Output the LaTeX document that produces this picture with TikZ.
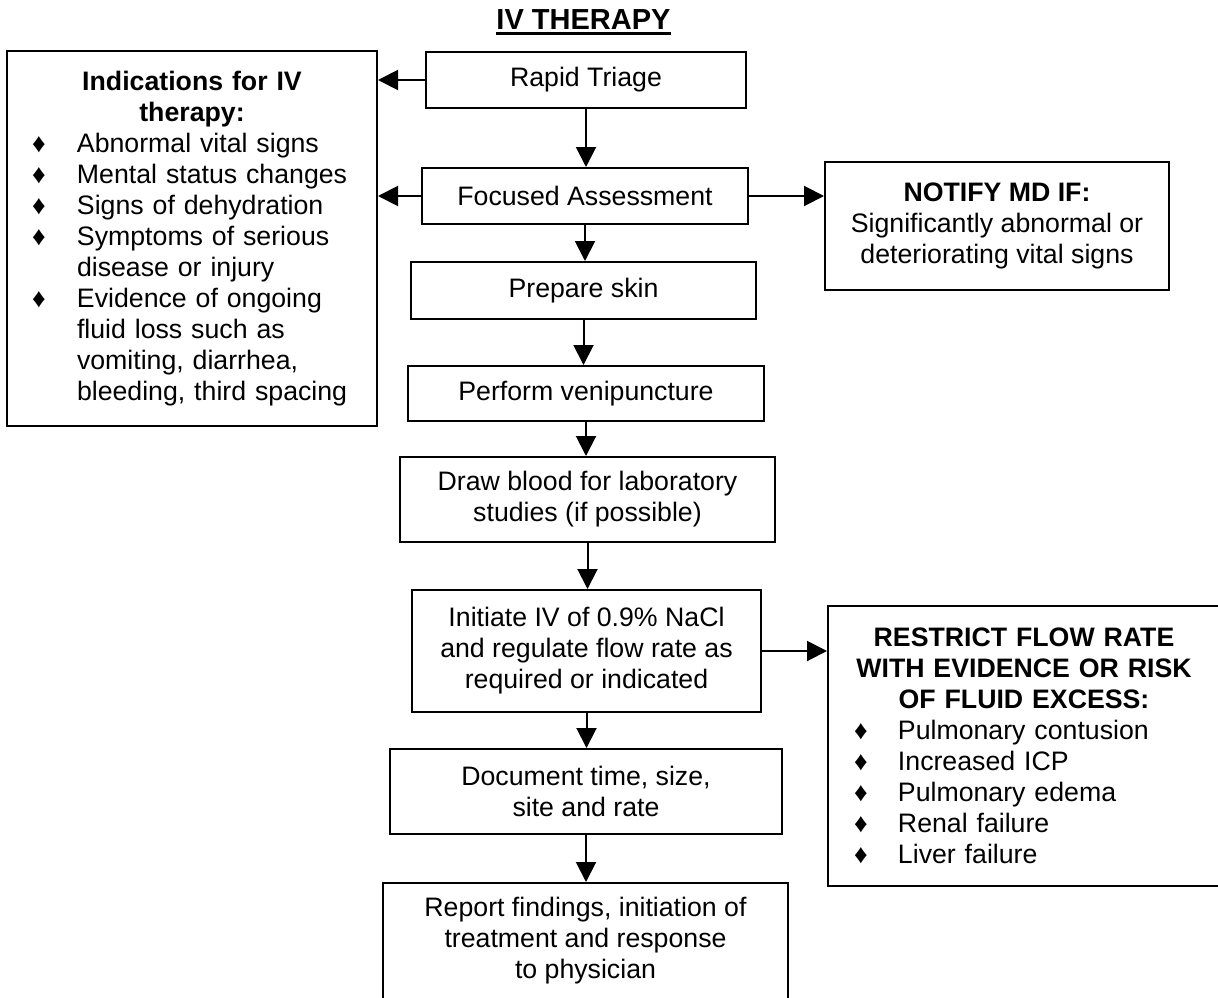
\documentclass[tikz,border=0pt]{standalone}
\usepackage{fontspec}
\setmainfont{Liberation Sans}
\usetikzlibrary{arrows.meta}
\newcommand\mainfs{\fontsize{26.7}{31}\selectfont}
\newcommand\bul{\makebox[45pt][l]{♦}}
\newcommand\bulr{\makebox[44pt][l]{♦}}
\begin{document}
\begin{tikzpicture}[x=1pt,y=-1pt,
  box/.style={draw, line width=2pt, inner sep=0pt, align=center, font=\mainfs},
  arr/.style={line width=2pt, -{Triangle[length=20pt,width=20pt]}}]
\useasboundingbox (0,0) rectangle (1218,998);
\clip (0,0) rectangle (1218,998);

% title
\node[inner sep=0pt, anchor=base, font=\fontsize{29}{34}\selectfont\bfseries] (title) at (583.5,30) {IV THERAPY};
\draw[line width=2.5pt] ([yshift=-3.5pt]title.base west) -- ([yshift=-3.5pt]title.base east);

% main column
\node[box, minimum width=320pt, minimum height=56pt] (rapid) at (586,80) {Rapid Triage};
\node[box, minimum width=326pt, minimum height=56pt] (focus) at (585,196) {Focused Assessment};
\node[box, minimum width=345pt, minimum height=57pt] (prep) at (583.5,290.5) {Prepare skin};
\node[box, minimum width=356pt, minimum height=55pt] (veni) at (586,393.5) {Perform venipuncture};
\node[box, minimum width=375pt, minimum height=85pt] (blood) at (587.5,499.5) {Draw blood for laboratory\\studies (if possible)};
\node[box, minimum width=349pt, minimum height=122pt] (init) at (586.5,651) {Initiate IV of 0.9\% NaCl\\and regulate flow rate as\\required or indicated};
\node[box, minimum width=392pt, minimum height=85pt] (doc) at (586,791.5) {Document time, size,\\site and rate};
\node[box, minimum width=405pt, minimum height=116pt] (report) at (585.5,941) {Report findings, initiation of\\treatment and response\\to physician};

% side boxes
\node[box, align=left, text width=320pt, minimum width=370pt, minimum height=375pt] (ind) at (192,238.5)
{{\centering\textbf{Indications for IV\\therapy:}\par}
\bul Abnormal vital signs\\
\bul Mental status changes\\
\bul Signs of dehydration\\
\bul Symptoms of serious\\
\hspace*{45pt}disease or injury\\
\bul Evidence of ongoing\\
\hspace*{45pt}fluid loss such as\\
\hspace*{45pt}vomiting, diarrhea,\\
\hspace*{45pt}bleeding, third spacing};

\node[box, minimum width=344pt, minimum height=128pt] (notify) at (997,226)
{\textbf{NOTIFY MD IF:}\\Significantly abnormal or\\deteriorating vital signs};

\node[box, align=left, text width=340pt, minimum width=392pt, minimum height=280pt] (restrict) at (1024,746)
{{\centering\textbf{RESTRICT FLOW RATE\\WITH EVIDENCE OR RISK\\OF FLUID EXCESS:}\par}
\bulr Pulmonary contusion\\
\bulr Increased ICP\\
\bulr Pulmonary edema\\
\bulr Renal failure\\
\bulr Liver failure};

% connectors
\draw[arr] (rapid.south) -- (rapid.south |- focus.north);
\draw[arr] (focus.south) -- (focus.south |- prep.north);
\draw[arr] (prep.south) -- (prep.south |- veni.north);
\draw[arr] (veni.south) -- (veni.south |- blood.north);
\draw[arr] (blood.south) -- (blood.south |- init.north);
\draw[arr] (init.south) -- (init.south |- doc.north);
\draw[arr] (doc.south) -- (doc.south |- report.north);
\draw[arr] (rapid.west) -- (ind.east |- rapid.west);
\draw[arr] (focus.west) -- (ind.east |- focus.west);
\draw[arr] (focus.east) -- (notify.west |- focus.east);
\draw[arr] (init.east) -- (restrict.west |- init.east);
\end{tikzpicture}
\end{document}
